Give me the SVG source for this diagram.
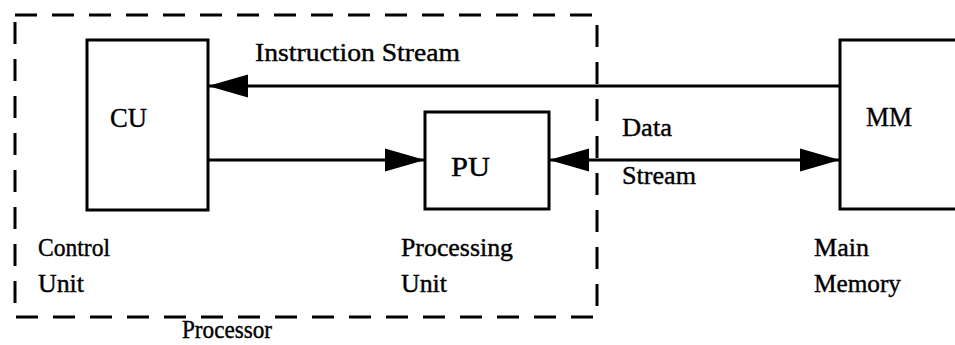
<svg xmlns="http://www.w3.org/2000/svg" width="955" height="345" viewBox="0 0 955 345">
  <style>
    .box { fill: #ffffff; stroke: #000000; stroke-width: 3; }
    .frame { fill: none; stroke: #000000; stroke-width: 3; stroke-dasharray: 22 15; }
    .wire { fill: none; stroke: #000000; stroke-width: 3; }
    text { font-family: "Liberation Serif", "Times New Roman", serif; font-size: 26px; fill: #000000; stroke: #000000; stroke-width: 0.4; }
    .name { font-size: 28px; }
  </style>
  <defs>
    <marker id="head" markerUnits="userSpaceOnUse" markerWidth="40" markerHeight="24" viewBox="0 0 38 22" refX="38" refY="11" orient="auto-start-reverse">
      <path d="M0,0 L38,11 L0,22 Z" fill="#000000"/>
    </marker>
  </defs>
  <rect width="955" height="345" fill="#ffffff"/>

  <!-- processor boundary -->
  <g id="processor">
    <rect class="frame" x="15" y="15" width="582" height="302"/>
    <text x="182" y="338" textLength="90" lengthAdjust="spacingAndGlyphs">Processor</text>
  </g>

  <g id="cu">
    <rect class="box" x="87" y="40" width="121" height="170"/>
    <text class="name" x="110" y="127" textLength="37" lengthAdjust="spacingAndGlyphs">CU</text>
    <text x="38" y="256" textLength="72" lengthAdjust="spacingAndGlyphs">Control</text>
    <text x="38" y="292" textLength="46" lengthAdjust="spacingAndGlyphs">Unit</text>
  </g>

  <g id="pu">
    <rect class="box" x="425" y="112" width="124" height="97"/>
    <text class="name" x="451" y="176" textLength="39" lengthAdjust="spacingAndGlyphs">PU</text>
    <text x="401" y="256" textLength="112" lengthAdjust="spacingAndGlyphs">Processing</text>
    <text x="401" y="292" textLength="46" lengthAdjust="spacingAndGlyphs">Unit</text>
  </g>

  <g id="mm">
    <rect class="box" x="840" y="40" width="130" height="169"/>
    <text class="name" x="866" y="126" textLength="46" lengthAdjust="spacingAndGlyphs">MM</text>
    <text x="814" y="256" textLength="55" lengthAdjust="spacingAndGlyphs">Main</text>
    <text x="814" y="292" textLength="87" lengthAdjust="spacingAndGlyphs">Memory</text>
  </g>

  <g id="connectors">
    <!-- instruction stream: MM to CU -->
    <line class="wire" x1="840" y1="86" x2="208" y2="86" marker-end="url(#head)"/>
    <text x="255" y="61" textLength="205" lengthAdjust="spacingAndGlyphs">Instruction Stream</text>
    <!-- control: CU to PU -->
    <line class="wire" x1="208" y1="160" x2="425" y2="160" marker-end="url(#head)"/>
    <!-- data stream: PU and MM both ways -->
    <line class="wire" x1="549" y1="160" x2="840" y2="160" marker-start="url(#head)" marker-end="url(#head)"/>
    <text x="622" y="136" textLength="50" lengthAdjust="spacingAndGlyphs">Data</text>
    <text x="622" y="184" textLength="74" lengthAdjust="spacingAndGlyphs">Stream</text>
  </g>
</svg>
